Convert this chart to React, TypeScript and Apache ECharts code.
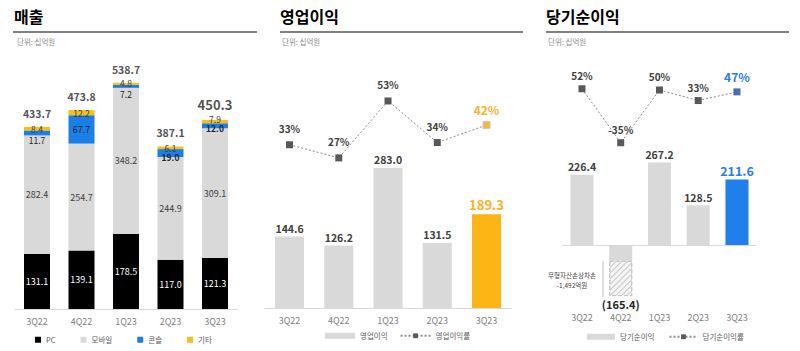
import React, { useEffect, useRef } from 'react';
import * as echarts from 'echarts';

const FONT = "'Noto Sans CJK KR', 'Noto Sans', sans-serif";

const quarters = ['3Q22', '4Q22', '1Q23', '2Q23', '3Q23'];

// 매출 (단위: 십억원)
const revenuePC = [131.1, 139.1, 178.5, 117.0, 121.3];
const revenueMobile = [282.4, 254.7, 348.2, 244.9, 309.1];
const revenueConsole = [11.7, 67.7, 7.2, 19.0, 12.0];
const revenueOther = [8.4, 12.2, 4.8, 6.1, 7.9];
const revenueTotal = [433.7, 473.8, 538.7, 387.1, 450.3];

// 영업이익
const operatingProfit = [144.6, 126.2, 283.0, 131.5, 189.3];
const operatingMargin = [33, 27, 53, 34, 42];

// 당기순이익
const netIncome = [226.4, -165.4, 267.2, 128.5, 211.6];
const netIncomeSolidPart = [226.4, -51.0, 267.2, 128.5, 211.6];
const impairmentPart = [null, -114.4, null, null, null];
const netMargin = [52, -35, 50, 33, 47];

const revenueLegend = ['PC', '모바일', '콘솔', '기타'];

export default function App() {
  const ref = useRef<HTMLDivElement>(null);

  useEffect(() => {
    if (!ref.current) return;
    const chart = echarts.init(ref.current, undefined, { renderer: 'svg' });
    const last = quarters.length - 1;
    const dark = '#404040';
    const gray = '#d9d9d9';

    const catAxis = (gridIndex: number, showLine: boolean) => ({
      type: 'category',
      gridIndex,
      data: quarters,
      axisLine: { show: showLine, onZero: false, lineStyle: { color: gray, width: 1 } },
      axisTick: { show: false },
      axisLabel: { color: '#7f7f7f', fontSize: 9, margin: 8, fontFamily: FONT },
      splitLine: { show: false },
    });
    const valAxis = (gridIndex: number, min: number, max: number) => ({
      type: 'value',
      gridIndex,
      min,
      max,
      show: false,
      splitLine: { show: false },
    });

    const consoleLabels = [
      { position: 'bottom', distance: 0, fontWeight: 'normal' },
      { position: 'inside', distance: 0, fontWeight: 'normal', fontSize: 9 },
      { position: 'bottom', distance: 2, fontWeight: 'normal' },
      { position: 'bottom', distance: -4, fontWeight: 'bold' },
      { position: 'inside', distance: 0, fontWeight: 'bold', offset: [0, 2] },
    ];
    const otherLabels = [
      {},
      {},
      { offset: [0, -1] },
      {},
      { offset: [0, -2.5] },
    ];

    const legendText = { fontSize: 7.5, color: '#595959', fontFamily: FONT };

    const option: any = {
      animation: false,
      textStyle: { fontFamily: FONT },
      grid: [
        { left: 14.75, top: 60, width: 222.5, height: 249 },
        { left: 264.9, top: 60, width: 246.25, height: 248 },
        { left: 562.6, top: 60, width: 193.75, height: 245 },
      ],
      xAxis: [catAxis(0, true), catAxis(1, true), catAxis(2, false)],
      yAxis: [
        valAxis(0, 0, 593),
        valAxis(1, 0, 501),
        valAxis(1, -41.55, 71.7),
        valAxis(2, -194.2, 598.7),
        valAxis(2, -296.8, 98.4),
      ],
      legend: [
        {
          left: 35,
          top: 336,
          padding: 0,
          data: revenueLegend,
          icon: 'rect',
          itemWidth: 6,
          itemHeight: 6,
          itemGap: 25,
          textStyle: legendText,
        },
        {
          left: 325,
          top: 332,
          padding: 0,
          data: [{ name: '영업이익', icon: 'rect' }, { name: '영업이익률' }],
          itemWidth: 30,
          itemHeight: 6,
          itemGap: 12,
          textStyle: legendText,
        },
        {
          left: 587,
          top: 333,
          padding: 0,
          data: [{ name: '당기순이익', icon: 'rect' }, { name: '당기순이익률' }],
          itemWidth: 28,
          itemHeight: 6,
          itemGap: 14,
          textStyle: legendText,
        },
      ],
      graphic: [
        { type: 'text', left: 14, top: 8, style: { text: '매출', fontSize: 16, fontWeight: 'bold', fill: '#000', fontFamily: FONT } },
        { type: 'text', left: 280, top: 8, style: { text: '영업이익', fontSize: 16, fontWeight: 'bold', fill: '#000', fontFamily: FONT } },
        { type: 'text', left: 546, top: 8, style: { text: '당기순이익', fontSize: 16, fontWeight: 'bold', fill: '#000', fontFamily: FONT } },
        { type: 'rect', left: 13, top: 31, shape: { width: 244, height: 2 }, style: { fill: '#808080' } },
        { type: 'rect', left: 280, top: 31, shape: { width: 243, height: 2 }, style: { fill: '#808080' } },
        { type: 'rect', left: 546, top: 31, shape: { width: 243, height: 2 }, style: { fill: '#808080' } },
        { type: 'text', left: 17, top: 38, style: { text: '단위: 십억원', fontSize: 7.5, fill: '#8c8c8c', fontFamily: FONT } },
        { type: 'text', left: 282, top: 38, style: { text: '단위: 십억원', fontSize: 7.5, fill: '#8c8c8c', fontFamily: FONT } },
        { type: 'text', left: 548, top: 38, style: { text: '단위: 십억원', fontSize: 7.5, fill: '#8c8c8c', fontFamily: FONT } },
        {
          type: 'text',
          x: 572,
          y: 270,
          style: {
            text: '무형자산손상차손\n-1,492억원',
            align: 'center',
            verticalAlign: 'top',
            fontSize: 6.5,
            lineHeight: 10,
            fill: '#404040',
            fontFamily: FONT,
          },
        },
        { type: 'line', shape: { x1: 603, y1: 261, x2: 603, y2: 297 }, style: { stroke: '#bfbfbf', lineWidth: 1 } },
      ],
      series: [
        {
          name: 'PC',
          type: 'bar',
          xAxisIndex: 0,
          yAxisIndex: 0,
          stack: 'rev',
          barWidth: 26,
          itemStyle: { color: '#000000' },
          label: { show: true, position: 'inside', color: '#ffffff', fontSize: 9, formatter: (p: any) => p.value.toFixed(1) },
          data: revenuePC,
        },
        {
          name: '모바일',
          type: 'bar',
          xAxisIndex: 0,
          yAxisIndex: 0,
          stack: 'rev',
          barWidth: 26,
          itemStyle: { color: gray },
          label: { show: true, position: 'inside', color: dark, fontSize: 9, formatter: (p: any) => p.value.toFixed(1) },
          data: revenueMobile,
        },
        {
          name: '콘솔',
          type: 'bar',
          xAxisIndex: 0,
          yAxisIndex: 0,
          stack: 'rev',
          barWidth: 26,
          itemStyle: { color: '#1b7fe8' },
          label: { show: true, color: '#262626', fontSize: 8.5, formatter: (p: any) => p.value.toFixed(1) },
          data: revenueConsole.map((v, i) => ({ value: v, label: consoleLabels[i] })),
        },
        {
          name: '기타',
          type: 'bar',
          xAxisIndex: 0,
          yAxisIndex: 0,
          stack: 'rev',
          barWidth: 26,
          itemStyle: { color: '#fbbf14' },
          label: { show: true, position: 'inside', color: dark, fontSize: 8.5, formatter: (p: any) => p.value.toFixed(1) },
          data: revenueOther.map((v, i) => ({ value: v, label: otherLabels[i] })),
        },
        {
          name: 'total',
          type: 'scatter',
          xAxisIndex: 0,
          yAxisIndex: 0,
          symbolSize: 1,
          itemStyle: { color: 'rgba(0,0,0,0)' },
          silent: true,
          label: {
            show: true,
            position: 'top',
            distance: 8,
            color: '#262626',
            fontWeight: 'bold',
            fontSize: 10.5,
            formatter: (p: any) => p.value.toFixed(1),
          },
          data: revenueTotal.map((v, i) =>
            i === last ? { value: v, label: { fontSize: 13, distance: 8 } } : v
          ),
        },
        {
          name: '영업이익',
          type: 'bar',
          xAxisIndex: 1,
          yAxisIndex: 1,
          barWidth: 29,
          itemStyle: { color: gray },
          label: {
            show: true,
            position: 'top',
            distance: 3,
            color: dark,
            fontWeight: 'bold',
            fontSize: 10.5,
            formatter: (p: any) => p.value.toFixed(1),
          },
          data: operatingProfit.map((v, i) =>
            i === last
              ? { value: v, itemStyle: { color: '#fdb515' }, label: { color: '#f9b21d', fontSize: 13 } }
              : v
          ),
        },
        {
          name: '영업이익률',
          type: 'line',
          xAxisIndex: 1,
          yAxisIndex: 2,
          symbol: 'rect',
          symbolSize: 7,
          lineStyle: { color: '#8c8c8c', width: 1, type: [2, 2] },
          itemStyle: { color: '#595959' },
          label: {
            show: true,
            position: 'top',
            distance: 8,
            color: dark,
            fontWeight: 'bold',
            fontSize: 10,
            formatter: (p: any) => p.value + '%',
          },
          data: operatingMargin.map((v, i) =>
            i === last
              ? {
                  value: v,
                  itemStyle: { color: '#f7b733', borderColor: '#c8c8c8', borderWidth: 1 },
                  label: { color: '#f7b32b', fontSize: 12, distance: 6 },
                }
              : v
          ),
        },
        {
          name: '당기순이익',
          type: 'bar',
          xAxisIndex: 2,
          yAxisIndex: 3,
          stack: 'ni',
          barWidth: 23,
          itemStyle: { color: gray },
          label: {
            show: true,
            position: 'top',
            distance: 3,
            color: dark,
            fontWeight: 'bold',
            fontSize: 10.5,
            formatter: (p: any) => netIncome[p.dataIndex].toFixed(1),
          },
          markLine: {
            silent: true,
            symbol: 'none',
            label: { show: false },
            lineStyle: { color: gray, type: 'solid', width: 1 },
            data: [{ yAxis: 0 }],
          },
          data: netIncomeSolidPart.map((v, i) => {
            if (netIncome[i] < 0) return { value: v, label: { show: false } };
            if (i === last)
              return { value: v, itemStyle: { color: '#1f7fed' }, label: { color: '#2b7de9', fontSize: 12.5 } };
            return v;
          }),
        },
        {
          name: 'impairment',
          type: 'bar',
          xAxisIndex: 2,
          yAxisIndex: 3,
          stack: 'ni',
          barWidth: 23,
          itemStyle: {
            color: '#f4f4f4',
            borderColor: '#c4c4c4',
            borderWidth: 1,
            borderType: 'dashed',
            decal: {
              symbol: 'rect',
              symbolSize: 1,
              color: '#c8c8c8',
              backgroundColor: '#f4f4f4',
              dashArrayX: [[1, 0]],
              dashArrayY: [1, 3],
              rotation: -Math.PI / 4,
            },
          },
          label: {
            show: true,
            position: 'bottom',
            distance: 2,
            color: '#262626',
            fontWeight: 'bold',
            fontSize: 11,
            formatter: (p: any) => '(' + Math.abs(netIncome[p.dataIndex]).toFixed(1) + ')',
          },
          data: impairmentPart,
        },
        {
          name: '당기순이익률',
          type: 'line',
          xAxisIndex: 2,
          yAxisIndex: 4,
          symbol: 'rect',
          symbolSize: 7,
          lineStyle: { color: '#8c8c8c', width: 1, type: [2, 2] },
          itemStyle: { color: '#595959' },
          label: {
            show: true,
            position: 'top',
            distance: 5,
            color: dark,
            fontWeight: 'bold',
            fontSize: 10,
            formatter: (p: any) => p.value + '%',
          },
          data: netMargin.map((v, i) =>
            i === last
              ? { value: v, itemStyle: { color: '#4a6cb3' }, label: { color: '#2b7de9', fontSize: 12, distance: 6 } }
              : v
          ),
        },
      ],
    };

    chart.setOption(option);
    return () => chart.dispose();
  }, []);

  return (
    <div
      ref={ref}
      style={{ position: 'fixed', left: 0, top: 0, width: 800, height: 351, background: '#ffffff' }}
    />
  );
}
